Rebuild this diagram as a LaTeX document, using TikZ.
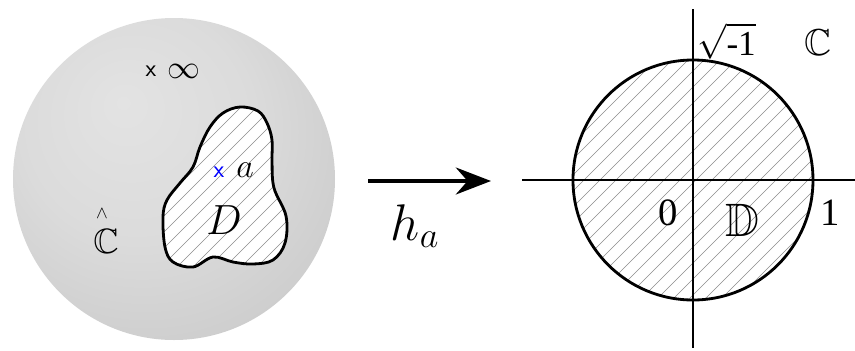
\RequirePackage{fix-cm}
\documentclass[tikz,border=0pt]{standalone}
\usepackage{amssymb}
\usepackage{fontspec}
\newfontfamily\tms{Liberation Serif}
\usetikzlibrary{arrows.meta}
\pgfdeclareradialshading{sph}{\pgfpoint{-8bp}{12bp}}{color(0bp)=(black!11); color(18bp)=(black!14); color(45bp)=(black!24); color(62bp)=(black!32)}
\tikzset{
  hatch/.style={draw=black!45, line width=0.5pt},
  outline/.style={line width=2.4pt, line join=round},
  axis/.style={line width=2.4pt},
  lbl/.style={inner sep=0pt},
}
\begin{document}
\begin{tikzpicture}[x=0.03cm,y=-0.03cm]
\useasboundingbox (0,0) rectangle (855,350);
\fill[white] (0,0) rectangle (855,350);
% sphere
\shade[shading=sph] (174,179) circle (161);
% blob D
\def\blob{plot[smooth cycle, tension=0.6] coordinates {(240,107) (258,111) (267,123) (272,140) (272,162) (274,188) (286,216) (285,243) (273,260) (253,264) (233,262) (213,257) (193,267) (173,262) (165,247) (163,217) (167,200) (180,183) (193,167) (200,147) (210,127) (223,113)}}
\begin{scope}
  \clip \blob;
  \fill[white] (150,100) rectangle (300,280);
  \foreach \c in {300,316,...,620} \draw[hatch] (\c,0) -- (\c-350,350);
\end{scope}
\draw[outline] \blob;
\node[lbl, font=\sffamily\fontsize{21}{22}\selectfont] (xinf) at (151,71) {x};
\node[lbl, font=\fontsize{28}{30}\selectfont] (inf) at (184,71) {$\infty$};
\node[lbl, text=blue, font=\sffamily\fontsize{21}{22}\selectfont] (xa) at (219,172) {x};
\node[lbl, font=\fontsize{29}{30}\selectfont] (a) at (245,170) {$a$};
\node[lbl, font=\fontsize{36}{38}\selectfont] (D) at (224,220) {$D$};
\node[lbl, font=\fontsize{30}{32}\selectfont] (Cl) at (106,241) {$\mathbb{C}$};
\node[lbl, font=\fontsize{15}{16}\selectfont] (hat) at (102,214) {$\wedge$};
% arrow
\coordinate (as) at (368,181);
\coordinate (ae) at (491,181);
\draw[line width=3.4pt, -{Stealth[length=30pt, width=23pt, inset=10pt]}] (as) -- (ae);
\node[lbl, font=\fontsize{44}{46}\selectfont, anchor=base] (h) at (415,240) {$h_a$};
% unit disc
\coordinate (O) at (693,180);
\begin{scope}
  \clip (O) circle (120);
  \foreach \c in {700,716,...,1100} \draw[hatch] (\c,0) -- (\c-350,350);
\end{scope}
\draw[outline] (O) circle (120);
\coordinate (xl) at (522,180);
\coordinate (xr) at (855,180);
\coordinate (yt) at (693,9);
\coordinate (yb) at (693,348);
\draw[axis] (xl) -- (xr);
\draw[axis] (yt) -- (yb);
\node[lbl, font=\fontsize{30}{32}\selectfont, anchor=base west] (i) at (697,55) {$\sqrt{\hbox{\tms -1}}$};
\node[lbl, font=\fontsize{32}{34}\selectfont] (C) at (818,43) {$\mathbb{C}$};
\node[lbl, font=\tms\fontsize{33}{35}\selectfont] (zero) at (668,213) {0};
\node[lbl, font=\fontsize{40}{42}\selectfont] (DD) at (742,220) {$\mathbb{D}$};
\node[lbl, font=\tms\fontsize{33}{35}\selectfont] (one) at (830,213) {1};
\end{tikzpicture}
\end{document}
